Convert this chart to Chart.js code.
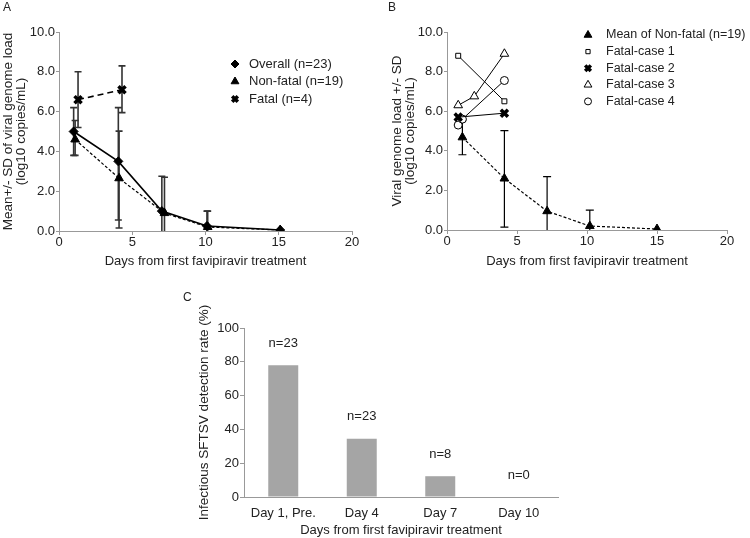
<!DOCTYPE html>
<html>
<head>
<meta charset="utf-8">
<title>Viral genome load after favipiravir</title>
<script src="https://cdn.jsdelivr.net/npm/chart.js"></script>
<style>
  body { margin: 0; background: #fff; width: 750px; height: 538px; position: relative; overflow: hidden; font-family: 'Liberation Sans', Arial, sans-serif; }
  canvas { position: absolute; }
  .tag { position: absolute; font-size: 12px; line-height: 14px; color: #222; }
</style>
</head>
<body>
<canvas id="chartA" width="370" height="270" style="left:0;top:0"></canvas>
<canvas id="chartB" width="380" height="270" style="left:370px;top:0"></canvas>
<canvas id="chartC" width="400" height="253" style="left:190px;top:285px"></canvas>
<div class="tag" style="left:3px;top:0">A</div>
<div class="tag" style="left:388px;top:0">B</div>
<div class="tag" style="left:183px;top:290px">C</div>

<script>
// Panel A - mean viral load by group
const overallDays = [1, 4.05, 7.02, 10.1, 15.1];
const overallMean = [5.0, 3.5, 1.0, 0.25, 0.05];
const overallLo = [3.8, 0.55, 0, 0, null];
const overallHi = [6.2, 6.2, 2.75, 1.0, null];

const nonFatalDays = [1.1, 4.1, 7.2, 10.15, 15.1];
const nonFatalMean = [4.6, 2.65, 0.9, 0.2, 0.05];
const nonFatalLo = [3.8, 0.15, 0, 0, null];
const nonFatalHi = [5.55, 5.02, 2.7, 1.0, null];

const fatalDays = [1.3, 4.3];
const fatalMean = [6.6, 7.1];
const fatalLo = [5.2, 5.95];
const fatalHi = [8.0, 8.3];

// Panel B - non-fatal mean vs individual fatal cases
const meanNfDays = [1.1, 4.1, 7.15, 10.2, 15];
const meanNfLoad = [4.68, 2.6, 0.95, 0.2, 0.05];
const meanNfLo = [3.8, 0.15, 0, 0, null];
const meanNfHi = [5.55, 5.02, 2.7, 1.0, null];

const case1Days = [0.8, 4.1];
const case1Load = [8.8, 6.5];
const case2Days = [0.8, 4.1];
const case2Load = [5.7, 5.9];
const case3Days = [0.8, 1.95, 4.1];
const case3Load = [6.3, 6.75, 8.9];
const case4Days = [0.8, 1.1, 4.1];
const case4Load = [5.3, 5.6, 7.55];

// Panel C - detection rate
const dayLabels = ['Day 1, Pre.', 'Day 4', 'Day 7', 'Day 10'];
const detectionRate = [78, 34.5, 12.3, 0];
const sampleSizes = ['n=23', 'n=23', 'n=8', 'n=0'];

const xTitle = 'Days from first favipiravir treatment';
const ink = '#222';
const axisGray = '#999';

Chart.defaults.font.family = "'Liberation Sans', Arial, sans-serif";
Chart.defaults.color = ink;

function pts(xs, ys) {
    return xs.map((x, i) => ({ x: x, y: ys[i] }));
}

// vertical SD bars with caps, drawn under the lines
const errorBars = {
    id: 'errorBars',
    beforeDatasetsDraw(chart) {
        const ctx = chart.ctx;
        const xs = chart.scales.x, ys = chart.scales.y;
        ctx.save();
        chart.data.datasets.forEach(ds => {
            if (!ds.errLo) return;
            ctx.strokeStyle = ds.errColor || '#000';
            ctx.lineWidth = ds.errWidth || 1;
            ds.data.forEach((p, j) => {
                if (ds.errLo[j] == null) return;
                const x = xs.getPixelForValue(p.x);
                const yl = ys.getPixelForValue(ds.errLo[j]);
                const yh = ys.getPixelForValue(ds.errHi[j]);
                const c = ds.errCap || 3.5;
                ctx.beginPath();
                ctx.moveTo(x, yl);
                ctx.lineTo(x, yh);
                ctx.moveTo(x - c, yh);
                ctx.lineTo(x + c, yh);
                if (ds.errLo[j] > 0) {
                    ctx.moveTo(x - c, yl);
                    ctx.lineTo(x + c, yl);
                }
                ctx.stroke();
            });
        });
        ctx.restore();
    }
};

// legend drawn inside the plot area
const innerLegend = {
    id: 'innerLegend',
    afterDraw(chart, args, opts) {
        if (!opts || opts.textX == null) return;
        const ctx = chart.ctx;
        ctx.save();
        ctx.font = opts.fontSize + "px 'Liberation Sans', Arial, sans-serif";
        ctx.textBaseline = 'middle';
        ctx.textAlign = 'left';
        chart.data.datasets.forEach((ds, i) => {
            const y = opts.top + i * opts.rowHeight;
            ctx.fillStyle = ds.pointBackgroundColor;
            ctx.strokeStyle = ds.pointBorderColor;
            ctx.lineWidth = ds.pointBorderWidth;
            ctx.setLineDash([]);
            Chart.helpers.drawPoint(ctx, {
                pointStyle: ds.pointStyle,
                radius: ds.legendRadius || ds.pointRadius,
                rotation: 0,
                borderWidth: ds.pointBorderWidth
            }, opts.markerX, y);
            ctx.fillStyle = ink;
            ctx.fillText(ds.label, opts.textX, y);
        });
        ctx.restore();
    }
};

// n= labels above the bars
const barLabels = {
    id: 'barLabels',
    afterDatasetsDraw(chart) {
        const ctx = chart.ctx;
        const meta = chart.getDatasetMeta(0);
        const ys = chart.scales.y;
        ctx.save();
        ctx.font = "13px 'Liberation Sans', Arial, sans-serif";
        ctx.fillStyle = ink;
        ctx.textAlign = 'center';
        ctx.textBaseline = 'middle';
        meta.data.forEach((bar, i) => {
            ctx.fillText(sampleSizes[i], bar.x, ys.getPixelForValue(detectionRate[i]) - 22);
        });
        ctx.restore();
    }
};

function xAxis(height) {
    return {
        type: 'linear', min: 0, max: 20,
        ticks: { stepSize: 5, color: ink, font: { size: 13 }, padding: 0 },
        grid: { drawOnChartArea: false, drawTicks: true, tickLength: 4, color: axisGray },
        border: { color: axisGray },
        title: { display: true, text: xTitle, color: ink, font: { size: 13 }, padding: { top: 0, bottom: 1 } },
        afterFit: s => { s.height = height; }
    };
}

function yAxis(width, lines, pad) {
    return {
        type: 'linear', min: 0, max: 10,
        ticks: { stepSize: 2, color: ink, font: { size: 13 }, padding: 1, callback: v => v.toFixed(1) },
        grid: { drawOnChartArea: false, drawTicks: true, tickLength: 3, color: axisGray },
        border: { color: axisGray },
        title: { display: true, text: lines, color: ink, font: { size: 13.5, lineHeight: 1.0 }, padding: { top: pad, bottom: 0 } },
        afterFit: s => { s.width = width; }
    };
}

new Chart(document.getElementById('chartA'), {
    type: 'scatter',
    data: {
        datasets: [{
            label: 'Overall (n=23)',
            data: pts(overallDays, overallMean),
            showLine: true,
            borderColor: '#000',
            borderWidth: 1.6,
            pointStyle: 'rectRot',
            pointRadius: 4.5,
            legendRadius: 4,
            pointBackgroundColor: '#000',
            pointBorderColor: '#000',
            pointBorderWidth: 1,
            errLo: overallLo, errHi: overallHi, errColor: '#333', errWidth: 1.6
        }, {
            label: 'Non-fatal (n=19)',
            data: pts(nonFatalDays, nonFatalMean),
            showLine: true,
            borderColor: '#000',
            borderWidth: 1.2,
            borderDash: [3, 2],
            pointStyle: 'triangle',
            pointRadius: 5,
            legendRadius: 4.5,
            pointBackgroundColor: '#000',
            pointBorderColor: '#000',
            pointBorderWidth: 1,
            errLo: nonFatalLo, errHi: nonFatalHi, errColor: '#333', errWidth: 1.6
        }, {
            label: 'Fatal (n=4)',
            data: pts(fatalDays, fatalMean),
            showLine: true,
            borderColor: '#000',
            borderWidth: 1.6,
            borderDash: [6, 4],
            pointStyle: 'crossRot',
            pointRadius: 5,
            legendRadius: 4,
            pointBackgroundColor: '#000',
            pointBorderColor: '#000',
            pointBorderWidth: 3.5,
            errLo: fatalLo, errHi: fatalHi, errColor: '#333', errWidth: 1.6
        }]
    },
    options: {
        responsive: false,
        animation: false,
        layout: { padding: { top: 32, left: 0, right: 18, bottom: 0 } },
        scales: {
            x: xAxis(39),
            y: yAxis(59, ['Mean+/- SD of viral genome load', '(log10 copies/mL)'], 1.2)
        },
        plugins: {
            legend: { display: false },
            tooltip: { enabled: false },
            innerLegend: { markerX: 235, textX: 249, top: 64, rowHeight: 17.5, fontSize: 13 }
        }
    },
    plugins: [errorBars, innerLegend]
});

new Chart(document.getElementById('chartB'), {
    type: 'scatter',
    data: {
        datasets: [{
            label: 'Mean of Non-fatal (n=19)',
            data: pts(meanNfDays, meanNfLoad),
            showLine: true,
            borderColor: '#000',
            borderWidth: 1.2,
            borderDash: [3, 2],
            pointStyle: 'triangle',
            pointRadius: 5,
            legendRadius: 4.5,
            pointBackgroundColor: '#000',
            pointBorderColor: '#000',
            pointBorderWidth: 1,
            errLo: meanNfLo, errHi: meanNfHi, errColor: '#000', errWidth: 1.2, errCap: 4
        }, {
            label: 'Fatal-case 1',
            data: pts(case1Days, case1Load),
            showLine: true,
            borderColor: '#000',
            borderWidth: 1,
            pointStyle: 'rect',
            pointRadius: 3.5,
            legendRadius: 3,
            pointBackgroundColor: '#fff',
            pointBorderColor: '#000',
            pointBorderWidth: 1
        }, {
            label: 'Fatal-case 2',
            data: pts(case2Days, case2Load),
            showLine: true,
            borderColor: '#000',
            borderWidth: 1,
            pointStyle: 'crossRot',
            pointRadius: 5,
            legendRadius: 4,
            pointBackgroundColor: '#000',
            pointBorderColor: '#000',
            pointBorderWidth: 3.5
        }, {
            label: 'Fatal-case 3',
            data: pts(case3Days, case3Load),
            showLine: true,
            borderColor: '#000',
            borderWidth: 1,
            pointStyle: 'triangle',
            pointRadius: 5,
            legendRadius: 4.5,
            pointBackgroundColor: '#fff',
            pointBorderColor: '#000',
            pointBorderWidth: 1
        }, {
            label: 'Fatal-case 4',
            data: pts(case4Days, case4Load),
            showLine: true,
            borderColor: '#000',
            borderWidth: 1,
            pointStyle: 'circle',
            pointRadius: 4,
            legendRadius: 3.5,
            pointBackgroundColor: '#fff',
            pointBorderColor: '#000',
            pointBorderWidth: 1
        }]
    },
    options: {
        responsive: false,
        animation: false,
        layout: { padding: { top: 32, left: 20, right: 23, bottom: 0 } },
        scales: {
            x: xAxis(40),
            y: yAxis(57, ['Viral genome load +/- SD', '(log10 copies/mL)'], 0.2)
        },
        plugins: {
            legend: { display: false },
            tooltip: { enabled: false },
            innerLegend: { markerX: 218, textX: 236, top: 35, rowHeight: 16.6, fontSize: 12.5 }
        }
    },
    plugins: [errorBars, innerLegend]
});

new Chart(document.getElementById('chartC'), {
    type: 'bar',
    data: {
        labels: dayLabels,
        datasets: [{
            data: detectionRate,
            backgroundColor: '#a5a5a5',
            borderWidth: 0,
            barPercentage: 0.382,
            categoryPercentage: 1.0
        }]
    },
    options: {
        responsive: false,
        animation: false,
        layout: { padding: { top: 43, left: 0, right: 32, bottom: 0 } },
        scales: {
            x: {
                ticks: { color: ink, font: { size: 13 }, padding: 9 },
                grid: { display: false, drawTicks: false },
                border: { color: axisGray },
                title: { display: true, text: xTitle, color: ink, font: { size: 13 }, padding: { top: 0, bottom: 0 } },
                afterFit: s => { s.height = 41; }
            },
            y: {
                min: 0, max: 100,
                ticks: { stepSize: 20, color: ink, font: { size: 13 }, padding: 1 },
                grid: { drawOnChartArea: false, drawTicks: true, tickLength: 4, color: axisGray },
                border: { color: axisGray },
                title: { display: true, text: 'Infectious SFTSV detection rate (%)', color: ink, font: { size: 13.5, lineHeight: 1.0 }, padding: { top: 8, bottom: 0 } },
                afterFit: s => { s.width = 54; }
            }
        },
        plugins: {
            legend: { display: false },
            tooltip: { enabled: false }
        }
    },
    plugins: [barLabels]
});
</script>
</body>
</html>
